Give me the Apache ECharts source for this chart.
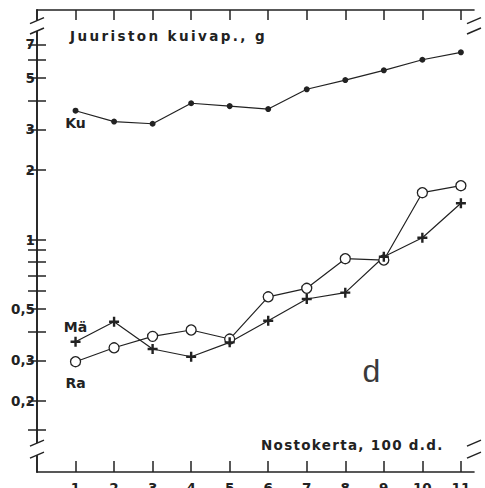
<!DOCTYPE html>
<html>
<head>
<meta charset="utf-8">
<script src="https://cdn.jsdelivr.net/npm/echarts@6/dist/echarts.min.js"></script>
<style>
  html, body { margin: 0; padding: 0; background: #fff; }
  #chart { width: 485px; height: 488px; }
</style>
</head>
<body>
<div id="chart"></div>
<script>
// Lift runs (x) and root dry weight per series (g, log scale)
const runs = [1, 2, 3, 4, 5, 6, 7, 8, 9, 10, 11];
const ku = [3.61, 3.24, 3.17, 3.89, 3.78, 3.67, 4.47, 4.90, 5.40, 6.00, 6.46];
const ma = [0.361, 0.441, 0.336, 0.311, 0.359, 0.445, 0.553, 0.589, 0.842, 1.018, 1.435];
const ra = [0.296, 0.340, 0.381, 0.406, 0.371, 0.565, 0.615, 0.826, 0.815, 1.595, 1.71];

// Axis ticks and labels
const yLabelValues = [0.2, 0.3, 0.5, 1, 2, 3, 5, 7];
const yTickValues = [0.15, 0.2, 0.3, 0.4, 0.5, 0.6, 0.7, 0.8, 0.9, 1, 2, 3, 4, 5, 6, 7];
const yRange = [0.0986, 9.85];
const xRange = [0, 11.34];
// Value spans where the vertical axes are broken
const breakRanges = [[7.99, 8.86], [0.1167, 0.1315]];

const seriesNames = ['Ku', 'Mä', 'Ra'];
const yTitle = 'Juuriston kuivap., g';
const xTitle = 'Nostokerta, 100 d.d.';
const panelLetter = 'd';

const INK = '#222';
const FONT = '"DejaVu Sans", sans-serif';
const PLUS = 'path://M3.8,0H6.2V3.8H10V6.2H6.2V10H3.8V6.2H0V3.8H3.8Z';

const chart = echarts.init(document.getElementById('chart'), null, { renderer: 'svg', width: 485, height: 488 });

function decimalComma(v) {
  return String(+(+v).toPrecision(3)).replace('.', ',');
}

function seriesLabel(position, distance) {
  return { show: true, position, distance, formatter: '{a}', color: INK,
           fontFamily: FONT, fontWeight: 'bold', fontSize: 14 };
}

// First point carries the series name as its label
function pointData(values, label) {
  return values.map((v, i) => i === 0 ? { value: [runs[i], v], label } : [runs[i], v]);
}

function xAxisCfg(position, showLabels, tickLen) {
  return {
    type: 'value', position, min: xRange[0], max: xRange[1],
    axisLine: { show: true, onZero: false, lineStyle: { color: INK, width: 1.6 } },
    axisTick: { show: true, inside: true, length: tickLen, customValues: runs, lineStyle: { color: INK, width: 1.5 } },
    axisLabel: { show: showLabels, customValues: runs, margin: 9, color: INK,
                 fontFamily: FONT, fontWeight: 'bold', fontSize: 13.5 },
    splitLine: { show: false }
  };
}

function yAxisCfg(position, showLabels) {
  return {
    type: 'log', logBase: 10, position, min: yRange[0], max: yRange[1],
    axisLine: { show: true, lineStyle: { color: INK, width: 1.6 } },
    axisTick: { show: true, inside: true, length: 9, customValues: yTickValues, lineStyle: { color: INK, width: 1.5 } },
    axisLabel: { show: showLabels, customValues: yLabelValues, margin: 2, color: INK,
                 fontFamily: FONT, fontWeight: 'bold', fontSize: 13.5, formatter: decimalComma },
    splitLine: { show: false },
    minorTick: { show: false }
  };
}

const lineStyle = { color: INK, width: 1.2 };

chart.setOption({
  animation: false,
  backgroundColor: '#fff',
  grid: { left: 37, right: 11, top: 10, bottom: 16, containLabel: false, outerBoundsMode: 'none' },
  xAxis: [xAxisCfg('bottom', true, 11), xAxisCfg('top', false, 10)],
  yAxis: [yAxisCfg('left', true), yAxisCfg('right', false)],
  series: [
    {
      name: seriesNames[0], type: 'line', symbol: 'circle', symbolSize: 6,
      itemStyle: { color: INK }, lineStyle,
      data: pointData(ku, seriesLabel('bottom', 2))
    },
    {
      name: seriesNames[2], type: 'line', symbol: 'circle', symbolSize: 10,
      itemStyle: { color: '#fff', borderColor: INK, borderWidth: 1.3 }, lineStyle,
      data: pointData(ra, seriesLabel('bottom', 9))
    },
    {
      name: seriesNames[1], type: 'line', symbol: PLUS, symbolSize: 10,
      itemStyle: { color: INK }, lineStyle,
      data: pointData(ma, seriesLabel('top', 3))
    }
  ]
});

// Axis breaks: blank a short gap in both vertical axes and mark it with two slashes
const leftX = chart.convertToPixel({ xAxisIndex: 0 }, xRange[0]);
const rightX = chart.convertToPixel({ xAxisIndex: 0 }, xRange[1]);
const graphics = [];
[leftX, rightX].forEach(ax => {
  breakRanges.forEach(r => {
    const ya = chart.convertToPixel({ yAxisIndex: 0 }, r[0]);
    const yb = chart.convertToPixel({ yAxisIndex: 0 }, r[1]);
    const y1 = Math.min(ya, yb), y2 = Math.max(ya, yb);
    graphics.push({ type: 'rect', z: 100, silent: true,
      shape: { x: ax - 3, y: y1, width: 6, height: y2 - y1 }, style: { fill: '#fff' } });
    [y1, y2].forEach(y => graphics.push({ type: 'line', z: 101, silent: true,
      shape: { x1: ax - 7, y1: y + 3, x2: ax + 7, y2: y - 3 },
      style: { stroke: INK, lineWidth: 1.5 } }));
  });
});

graphics.push(
  { type: 'text', z: 102, left: 70, top: 29,
    style: { text: yTitle, font: 'bold 13.5px ' + FONT, fill: INK } },
  { type: 'text', z: 102, left: 261, top: 438,
    style: { text: xTitle, font: 'bold 13.5px ' + FONT, fill: INK } },
  { type: 'text', z: 102, x: 371.5, y: 370.5,
    style: { text: panelLetter, font: '32px "Liberation Sans", sans-serif', fill: '#3a3a3a',
             align: 'center', verticalAlign: 'middle' } }
);

chart.setOption({ graphic: graphics });

// Wide tracking on the two axis titles
const tracking = { [yTitle]: 2.4, [xTitle]: 1.3 };
function applyTracking() {
  document.querySelectorAll('#chart text').forEach(t => {
    const s = tracking[t.textContent];
    if (s) t.setAttribute('letter-spacing', s + 'px');
  });
}
chart.on('finished', applyTracking);
applyTracking();
</script>
</body>
</html>
